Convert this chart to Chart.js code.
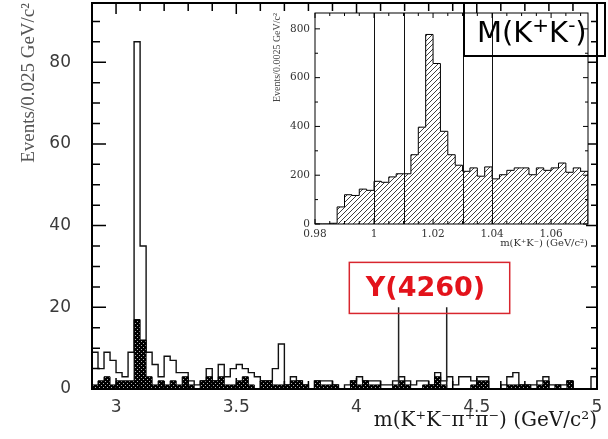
<!DOCTYPE html>
<html>
<head>
<meta charset="utf-8">
<script src="https://cdn.jsdelivr.net/npm/chart.js@4.4.1/dist/chart.umd.min.js"></script>
<style>
  html, body { margin: 0; padding: 0; background: #fff; }
  #wrap { position: relative; width: 608px; height: 439px; }
  #main { position: absolute; left: 0; top: 0; }
  #inset { position: absolute; left: 262px; top: 0; }
</style>
</head>
<body>
<div id="wrap">
  <canvas id="main" width="608" height="439" style="width:608px;height:439px"></canvas>
  <canvas id="inset" width="346" height="252" style="width:346px;height:252px"></canvas>
</div>
<script>
"use strict";

// Hovedfigur: m(K+K-pi+pi-), bins paa 0.025 GeV/c^2 fra 2.9
const massStart = 2.9;
const massBinWidth = 0.025;
const allEvents = [
  9, 5, 9, 7, 4, 3, 9, 85, 35, 9,
  6, 3, 8, 7, 4, 4, 2, 1, 2, 5,
  2, 6, 3, 5, 6, 5, 4, 3, 2, 2,
  5, 11, 1, 3, 2, 1, 0, 2, 2, 2,
  1, 0, 1, 2, 3, 2, 2, 2, 1, 1,
  2, 3, 2, 1, 2, 2, 1, 4, 2, 3,
  1, 3, 3, 2, 3, 3, 0, 0, 1, 3,
  4, 1, 1, 1, 2, 3, 1, 1, 1, 2,
  0, 0, 0, 3
];
const taggedEvents = [
  1, 2, 3, 1, 2, 2, 2, 17, 12, 3,
  1, 2, 1, 2, 1, 3, 1, 0, 2, 3,
  2, 3, 1, 1, 2, 3, 1, 0, 2, 2,
  1, 1, 1, 2, 2, 1, 0, 2, 1, 1,
  1, 0, 0, 2, 1, 2, 1, 1, 0, 0,
  1, 2, 1, 0, 0, 1, 1, 3, 1, 0,
  0, 0, 0, 1, 2, 2, 0, 0, 0, 1,
  1, 1, 1, 0, 1, 2, 0, 1, 0, 2,
  0, 0, 0, 0
];
const massTicks = [3, 3.5, 4, 4.5, 5];
const eventTicks = [0, 20, 40, 60, 80];
const markerMasses = [4.175, 4.375];
const markerTop = 20;

// Innfelt: m(K+K-), bins paa 0.0025 GeV/c^2 fra 0.98
const kkStart = 0.98;
const kkBinWidth = 0.0025;
const kkEvents = [
  0, 0, 3, 70, 120, 117, 143, 138, 175, 171,
  193, 206, 206, 284, 397, 777, 658, 380, 284, 241,
  216, 230, 196, 234, 185, 202, 220, 230, 230, 202,
  230, 220, 230, 250, 212, 230, 216
];
const kkTicks = [0.98, 1, 1.02, 1.04, 1.06];
const kkEventTicks = [0, 200, 400, 600, 800];
const kkCuts = [1.0, 1.01, 1.03, 1.04];

/**
 * Lager punkter for et trappe-histogram (nedre binkant + avslutning).
 */
function histPoints(values, start, width) {
  const end = start + values.length * width;
  const pts = [{ x: start, y: 0 }];
  values.forEach((v, i) => pts.push({ x: start + i * width, y: v }));
  pts.push({ x: end, y: values[values.length - 1] });
  pts.push({ x: end, y: 0 });
  return pts;
}

function range(from, to, step) {
  const out = [];
  for (let k = 0; from + k * step <= to + 1e-9; k++) out.push(+(from + k * step).toFixed(6));
  return out;
}

function isMultiple(v, step) {
  const r = v / step;
  return Math.abs(r - Math.round(r)) < 1e-6;
}

function dotPattern(ctx) {
  const c = document.createElement("canvas");
  c.width = 4; c.height = 4;
  const g = c.getContext("2d");
  g.fillStyle = "#000";
  g.fillRect(0, 0, 4, 4);
  g.fillStyle = "rgba(255,255,255,0.7)";
  g.fillRect(1, 1, 1, 1);
  g.fillRect(3, 3, 1, 1);
  return ctx.createPattern(c, "repeat");
}

function hatchPattern(ctx) {
  const c = document.createElement("canvas");
  c.width = 5; c.height = 5;
  const g = c.getContext("2d");
  g.fillStyle = "#fff";
  g.fillRect(0, 0, 5, 5);
  g.strokeStyle = "#2a2a2a";
  g.lineWidth = 0.9;
  g.beginPath();
  g.moveTo(-1, 6); g.lineTo(6, -1);
  g.moveTo(-1, 1); g.lineTo(1, -1);
  g.moveTo(4, 6); g.lineTo(6, 4);
  g.stroke();
  return ctx.createPattern(c, "repeat");
}

// Fjerner label-paddingen Chart.js ellers legger rundt plottet
function noEdgePadding(s, size) {
  if (s.isHorizontal()) s.height = size; else s.width = size;
  s.paddingTop = 0; s.paddingBottom = 0;
  s.paddingLeft = 0; s.paddingRight = 0;
}

/**
 * Ramme med tick-merker inn i plottet på alle fire sider (ROOT-stil).
 */
function frameTicks(id, cfg) {
  return {
    id,
    afterDatasetsDraw(chart) {
      const { ctx, chartArea: a, scales: { x, y } } = chart;
      ctx.save();
      ctx.strokeStyle = "#000";
      ctx.lineWidth = cfg.tickWidth;
      ctx.beginPath();
      cfg.xMarks.forEach(v => {
        const px = x.getPixelForValue(v);
        const len = isMultiple(v, cfg.xMajor) ? cfg.xLen[0] : cfg.xLen[1];
        ctx.moveTo(px, a.top); ctx.lineTo(px, a.top + len);
        ctx.moveTo(px, a.bottom); ctx.lineTo(px, a.bottom - len);
      });
      cfg.yMarks.forEach(v => {
        const py = y.getPixelForValue(v);
        const major = isMultiple(v, cfg.yMajor);
        ctx.moveTo(a.left, py); ctx.lineTo(a.left + (major ? cfg.leftLen[0] : cfg.leftLen[1]), py);
        ctx.moveTo(a.right, py); ctx.lineTo(a.right - (major ? cfg.rightLen[0] : cfg.rightLen[1]), py);
      });
      ctx.stroke();
      ctx.lineWidth = cfg.frameWidth;
      ctx.strokeRect(a.left, a.top, a.right - a.left, a.bottom - a.top);
      ctx.restore();
    }
  };
}

const y4260Label = {
  id: "y4260Label",
  afterDraw(chart) {
    const { ctx, scales: { x, y } } = chart;
    ctx.save();
    ctx.strokeStyle = "#222";
    ctx.lineWidth = 1.5;
    ctx.beginPath();
    markerMasses.forEach(m => {
      const px = x.getPixelForValue(m);
      ctx.moveTo(px, y.getPixelForValue(0.3));
      ctx.lineTo(px, y.getPixelForValue(markerTop));
    });
    ctx.stroke();

    const l = x.getPixelForValue(3.97), r = x.getPixelForValue(4.637);
    const t = y.getPixelForValue(31), b = y.getPixelForValue(18.5);
    ctx.strokeStyle = "#d8262e";
    ctx.lineWidth = 1.5;
    ctx.strokeRect(l, t, r - l, b - t);
    ctx.fillStyle = "#e3131b";
    ctx.font = "bold 27px 'DejaVu Sans'";
    ctx.textAlign = "center";
    ctx.textBaseline = "middle";
    ctx.fillText("Y(4260)", (l + r) / 2 - 4, (t + b) / 2 + 1);
    ctx.restore();
  }
};

const insetExtras = {
  id: "insetExtras",
  beforeDatasetsDraw(chart) {
    const { ctx, chartArea: a } = chart;
    ctx.save();
    ctx.fillStyle = "#fff";
    ctx.fillRect(a.left, a.top, a.right - a.left, a.bottom - a.top);
    ctx.restore();
  },
  afterDatasetsDraw(chart) {
    const { ctx, chartArea: a, scales: { x } } = chart;
    ctx.save();
    ctx.strokeStyle = "#111";
    ctx.lineWidth = 1;
    ctx.beginPath();
    kkCuts.forEach(v => {
      const px = Math.round(x.getPixelForValue(v)) + 0.5;
      ctx.moveTo(px, a.top);
      ctx.lineTo(px, a.bottom);
    });
    ctx.stroke();
    ctx.restore();
  },
  afterDraw(chart) {
    // M(K+K-) boks, uten fyll
    const { ctx } = chart;
    ctx.save();
    ctx.strokeStyle = "#000";
    ctx.lineWidth = 2;
    ctx.strokeRect(202, 3, 141, 53);
    ctx.fillStyle = "#000";
    ctx.textBaseline = "alphabetic";
    const parts = [["M(K", 0], ["+", 1], ["K", 0], ["-", 1], [")", 0]];
    let cx = 215;
    parts.forEach(([s, sup]) => {
      ctx.font = sup ? "20px 'DejaVu Sans'" : "29px 'DejaVu Sans'";
      ctx.fillText(s, cx, sup ? 32 : 42);
      cx += ctx.measureText(s).width;
    });
    ctx.restore();
  }
};

const mainCanvas = document.getElementById("main");
const mainCtx = mainCanvas.getContext("2d");

new Chart(mainCanvas, {
  type: "line",
  data: {
    datasets: [
      {
        label: "tagged",
        data: histPoints(taggedEvents, massStart, massBinWidth),
        stepped: "before",
        fill: "origin",
        backgroundColor: dotPattern(mainCtx),
        borderColor: "#000",
        borderWidth: 1,
        pointRadius: 0
      },
      {
        label: "all",
        data: histPoints(allEvents, massStart, massBinWidth),
        stepped: "before",
        fill: false,
        borderColor: "#111",
        borderWidth: 1.4,
        pointRadius: 0
      }
    ]
  },
  options: {
    responsive: false,
    animation: false,
    devicePixelRatio: 1,
    layout: { padding: { top: 3, right: 11, left: 0, bottom: 0 } },
    plugins: { legend: { display: false }, tooltip: { enabled: false } },
    scales: {
      x: {
        type: "linear",
        min: massStart,
        max: 5.0,
        grid: { display: false, drawTicks: false },
        border: { display: false },
        afterBuildTicks: s => { s.ticks = massTicks.map(value => ({ value })); },
        afterFit: s => noEdgePadding(s, 50),
        ticks: {
          padding: 8,
          maxRotation: 0,
          autoSkip: false,
          color: "#3a3a3a",
          font: { family: "DejaVu Sans", size: 17 },
          callback: v => String(v)
        },
        title: {
          display: true,
          text: "m(K⁺K⁻π⁺π⁻) (GeV/c²)",
          align: "end",
          color: "#1a1a1a",
          font: { family: "DejaVu Serif", size: 20 },
          padding: { top: 0, bottom: 6 }
        }
      },
      y: {
        min: 0,
        max: 94.5,
        grid: { display: false, drawTicks: false },
        border: { display: false },
        afterBuildTicks: s => { s.ticks = eventTicks.map(value => ({ value })); },
        afterFit: s => noEdgePadding(s, 92),
        ticks: {
          padding: 21,
          color: "#3a3a3a",
          font: { family: "DejaVu Sans", size: 17 },
          callback: v => String(v)
        },
        title: {
          display: true,
          text: "Events/0.025 GeV/c²",
          align: "end",
          color: "#555",
          font: { family: "Liberation Serif", size: 19 },
          padding: { top: 18, bottom: 0 }
        }
      }
    }
  },
  plugins: [
    frameTicks("mainFrame", {
      xMarks: range(3.0, 5.0, 0.1), xMajor: 0.5, xLen: [11, 8],
      yMarks: range(0, 90, 5), yMajor: 20, leftLen: [14, 8], rightLen: [11, 6],
      tickWidth: 1.5, frameWidth: 2
    }),
    y4260Label
  ]
});

const insetCanvas = document.getElementById("inset");
const insetCtx = insetCanvas.getContext("2d");

new Chart(insetCanvas, {
  type: "line",
  data: {
    datasets: [
      {
        label: "m(K+K-)",
        data: histPoints(kkEvents, kkStart, kkBinWidth),
        stepped: "before",
        fill: "origin",
        backgroundColor: hatchPattern(insetCtx),
        borderColor: "#000",
        borderWidth: 1,
        pointRadius: 0
      }
    ]
  },
  options: {
    responsive: false,
    animation: false,
    devicePixelRatio: 1,
    layout: { padding: { top: 13, right: 20, left: 0, bottom: 0 } },
    plugins: { legend: { display: false }, tooltip: { enabled: false } },
    scales: {
      x: {
        type: "linear",
        min: kkStart,
        max: kkStart + kkEvents.length * kkBinWidth,
        grid: { display: false, drawTicks: false },
        border: { display: false },
        afterBuildTicks: s => { s.ticks = kkTicks.map(value => ({ value })); },
        afterFit: s => noEdgePadding(s, 28),
        ticks: {
          padding: 4,
          maxRotation: 0,
          autoSkip: false,
          color: "#333",
          font: { family: "DejaVu Serif", size: 10.5 },
          callback: v => String(+v.toFixed(2))
        },
        title: {
          display: true,
          text: "m(K⁺K⁻) (GeV/c²)",
          align: "end",
          color: "#333",
          font: { family: "DejaVu Serif", size: 10 },
          padding: { top: 0, bottom: 3 }
        }
      },
      y: {
        min: 0,
        max: 865,
        grid: { display: false, drawTicks: false },
        border: { display: false },
        afterBuildTicks: s => { s.ticks = kkEventTicks.map(value => ({ value })); },
        afterFit: s => noEdgePadding(s, 53),
        ticks: {
          padding: 5,
          color: "#333",
          font: { family: "DejaVu Serif", size: 10.5 },
          callback: v => String(v)
        },
        title: {
          display: true,
          text: "Events/0.0025 GeV/c²",
          align: "end",
          color: "#444",
          font: { family: "Liberation Serif", size: 10 },
          padding: { top: 9, bottom: 0 }
        }
      }
    }
  },
  plugins: [
    insetExtras,
    frameTicks("insetFrame", {
      xMarks: range(0.98, 1.0725, 0.005), xMajor: 0.02, xLen: [5, 3],
      yMarks: range(0, 800, 100), yMajor: 200, leftLen: [5, 3], rightLen: [5, 3],
      tickWidth: 1, frameWidth: 1
    })
  ]
});
</script>
</body>
</html>
